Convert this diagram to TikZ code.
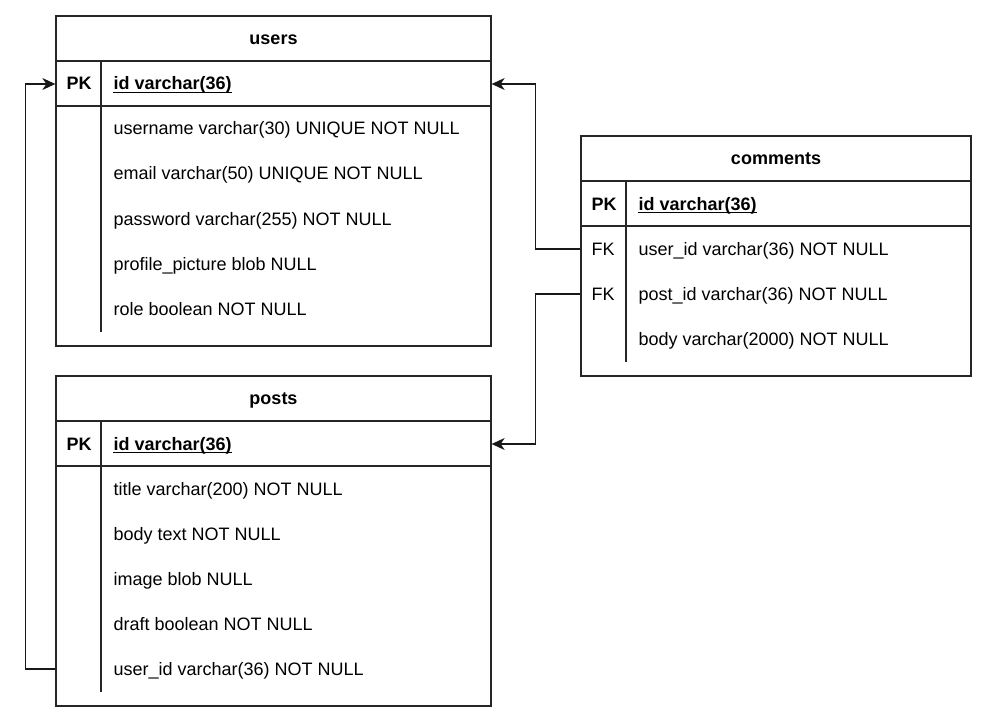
\documentclass[tikz,border=0pt]{standalone}
\usepackage{fontspec}
\setmainfont{Liberation Sans}
\usetikzlibrary{arrows.meta}
\begin{document}
\begin{tikzpicture}[x=1bp,y=-1bp,line width=1.3bp,line cap=rect,
  tablebox/.style={draw=black!85,rectangle,inner sep=0pt},
  rowbox/.style={rectangle,inner sep=0pt,minimum height=45bp},
  sep/.style={draw=black!85},
  uline/.style={draw=black,line width=1.2bp,line cap=butt},
  fieldtxt/.style={anchor=base west,inner sep=0pt,font=\fontsize{18bp}{21bp}\selectfont},
  keytxt/.style={anchor=base west,inner sep=0pt,font=\fontsize{18bp}{21bp}\selectfont\bfseries},
  fktxt/.style={anchor=base west,inner sep=0pt,font=\fontsize{18bp}{21bp}\selectfont},
  headtxt/.style={anchor=base,inner sep=0pt,font=\fontsize{18bp}{21bp}\selectfont\bfseries},
  fkarrow/.style={draw=black!90,line width=1.3bp,line cap=butt,-{Stealth[length=13bp,width=12bp,inset=4bp]}}]
\useasboundingbox (0,0) rectangle (987,722);

% ---------------- users ----------------
\node[tablebox,minimum width=435bp,minimum height=330bp] (users) at (273.5,181) {};
\draw[sep] (56,61) -- (491,61);
\draw[sep] (56,106) -- (491,106);
\draw[sep] (101,61) -- (101,331);
\node[headtxt] (usersT) at (273.5,44.5) {users};
\node[rowbox,minimum width=435bp] (upk) at (273.5,84) {};
\node[keytxt] (upkK) at (66,90) {PK};
\node[keytxt] (upkT) at (113,90) {id varchar(36)};
\draw[uline] ([yshift=-2.2bp]upkT.base west) -- ([yshift=-2.2bp]upkT.base east);
\node[fieldtxt] (u1) at (113,135) {username varchar(30) UNIQUE NOT NULL};
\node[fieldtxt] (u2) at (113,180) {email varchar(50) UNIQUE NOT NULL};
\node[fieldtxt] (u3) at (113,225) {password varchar(255) NOT NULL};
\node[fieldtxt] (u4) at (113,270) {profile\_picture blob NULL};
\node[fieldtxt] (u5) at (113,315) {role boolean NOT NULL};

% ---------------- posts ----------------
\node[tablebox,minimum width=435bp,minimum height=330bp] (posts) at (273.5,541) {};
\draw[sep] (56,421) -- (491,421);
\draw[sep] (56,466) -- (491,466);
\draw[sep] (101,421) -- (101,691);
\node[headtxt] (postsT) at (273.5,404.5) {posts};
\node[rowbox,minimum width=435bp] (ppk) at (273.5,444) {};
\node[keytxt] (ppkK) at (66,450) {PK};
\node[keytxt] (ppkT) at (113,450) {id varchar(36)};
\draw[uline] ([yshift=-2.2bp]ppkT.base west) -- ([yshift=-2.2bp]ppkT.base east);
\node[fieldtxt] (p1) at (113,495) {title varchar(200) NOT NULL};
\node[fieldtxt] (p2) at (113,540) {body text NOT NULL};
\node[fieldtxt] (p3) at (113,585) {image blob NULL};
\node[fieldtxt] (p4) at (113,630) {draft boolean NOT NULL};
\node[rowbox,minimum width=435bp] (pu5) at (273.5,669) {};
\node[fieldtxt] (p5) at (113,675) {user\_id varchar(36) NOT NULL};

% ---------------- comments ----------------
\node[tablebox,minimum width=390bp,minimum height=240bp] (comments) at (776,256) {};
\draw[sep] (581,181) -- (971,181);
\draw[sep] (581,226) -- (971,226);
\draw[sep] (626,181) -- (626,361);
\node[headtxt] (commentsT) at (776,164.5) {comments};
\node[rowbox,minimum width=390bp] (cpk) at (776,204) {};
\node[keytxt] (cpkK) at (591,210) {PK};
\node[keytxt] (cpkT) at (638,210) {id varchar(36)};
\draw[uline] ([yshift=-2.2bp]cpkT.base west) -- ([yshift=-2.2bp]cpkT.base east);
\node[rowbox,minimum width=390bp] (cfk1) at (776,249) {};
\node[fktxt] (cfk1K) at (591,255) {FK};
\node[fieldtxt] (c1) at (638,255) {user\_id varchar(36) NOT NULL};
\node[rowbox,minimum width=390bp] (cfk2) at (776,294) {};
\node[fktxt] (cfk2K) at (591,300) {FK};
\node[fieldtxt] (c2) at (638,300) {post\_id varchar(36) NOT NULL};
\node[fieldtxt] (c3) at (638,345) {body varchar(2000) NOT NULL};

% ---------------- connectors ----------------
\draw[fkarrow] (pu5.west) -- ++(-30,0) |- (upk.west);
\draw[fkarrow] (cfk1.west) -- ++(-45,0) |- (upk.east);
\draw[fkarrow] (cfk2.west) -- ++(-45,0) |- (ppk.east);
\end{tikzpicture}
\end{document}
